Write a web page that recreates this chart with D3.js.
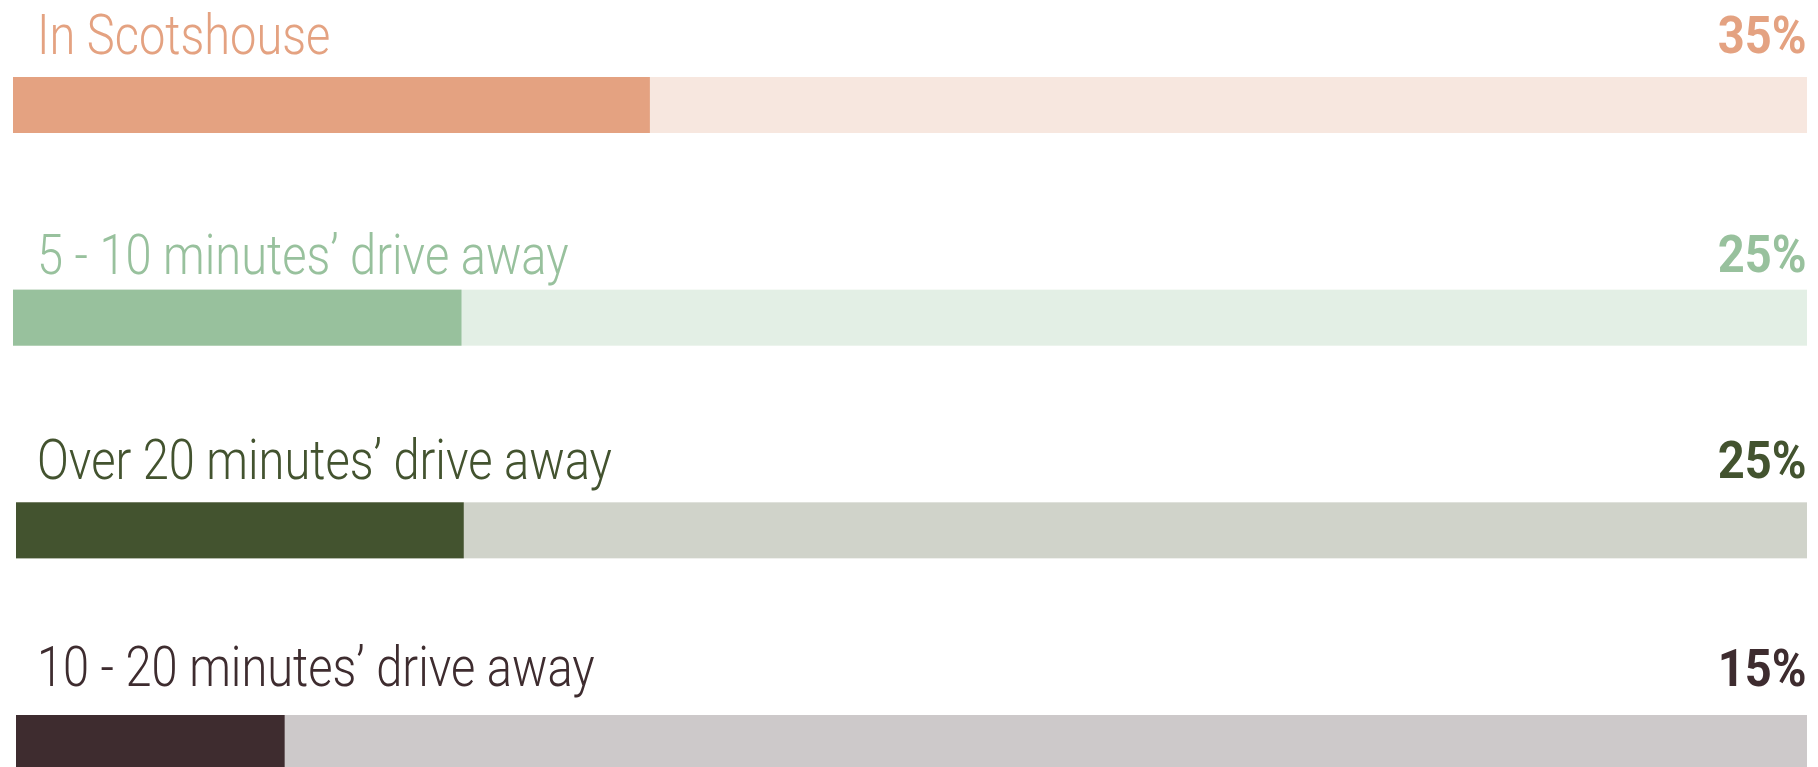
<!DOCTYPE html>
<html>
<head>
<meta charset="utf-8">
<script src="https://cdn.jsdelivr.net/npm/d3@7"></script>
<style>
  html, body { margin: 0; padding: 0; background: #ffffff; }
  svg { display: block; }
</style>
</head>
<body>
<svg id="chart" width="1818" height="767"></svg>
<script>
// ---- data ----
const categories = ["In Scotshouse", "5 - 10 minutes\u2019 drive away", "Over 20 minutes\u2019 drive away", "10 - 20 minutes\u2019 drive away"];
const values = [35.5, 25, 25, 15];
const valueLabels = ["35%", "25%", "25%", "15%"];
const fillColors = ["#e4a281", "#98c19d", "#43532f", "#3e2c2f"];
const trackColors = ["#f7e7df", "#e3efe5", "#d0d3ca", "#cdc9ca"];

// ---- layout ----
const W = 1818, H = 767;
const barRight = 1807;
const barH = 56;
const barLeft = [13, 13, 16, 16];
const labelGap = [23, 16, 23, 29];
const valueGap = [24, 18, 24, 29];
const labelX = 37;
const labelSize = 55, valueSize = 52;
const labelCondense = 0.855, valueCondense = 0.905;

const svg = d3.select("#chart");

const y = d3.scalePoint().domain(categories).range([77, 715]);

categories.forEach((c, i) => {
  const x = d3.scaleLinear().domain([0, 100]).range([barLeft[i], barRight]);
  const g = svg.append("g");
  const top = y(c);

  g.append("rect")
    .attr("x", x(0)).attr("y", top)
    .attr("width", x(100) - x(0)).attr("height", barH)
    .attr("fill", trackColors[i]);

  g.append("rect")
    .attr("x", x(0)).attr("y", top)
    .attr("width", x(values[i]) - x(0)).attr("height", barH)
    .attr("fill", fillColors[i]);

  g.append("text")
    .attr("transform", `translate(${labelX},${top - labelGap[i]}) scale(${labelCondense},1)`)
    .attr("font-family", "Roboto, sans-serif")
    .attr("font-weight", 300)
    .attr("font-size", labelSize)
    .attr("fill", fillColors[i])
    .text(c);

  g.append("text")
    .attr("transform", `translate(${barRight - 0.5},${top - valueGap[i]}) scale(${valueCondense},1)`)
    .attr("text-anchor", "end")
    .attr("font-family", "Roboto, sans-serif")
    .attr("font-weight", 700)
    .attr("font-size", valueSize)
    .attr("fill", fillColors[i])
    .text(valueLabels[i]);
});
</script>
</body>
</html>
